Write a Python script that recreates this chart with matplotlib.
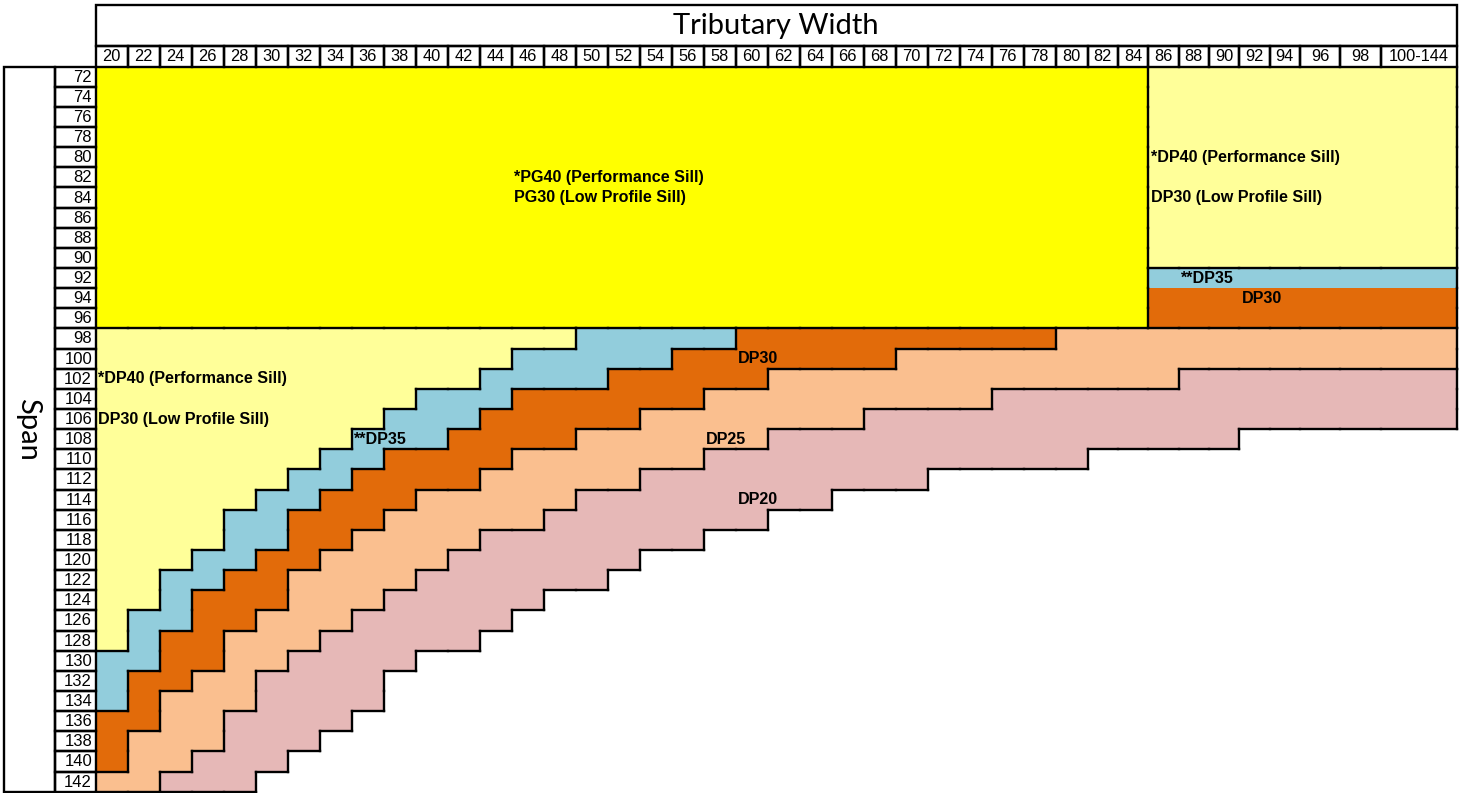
import numpy as np
import matplotlib
matplotlib.use("Agg")
import matplotlib.pyplot as plt
from matplotlib.colors import ListedColormap
from matplotlib.collections import LineCollection
from matplotlib.patches import Rectangle

# tributary width (columns) and span (rows)
widths = [str(w) for w in range(20, 100, 2)] + ["100-144"]
spans = list(range(72, 144, 2))

# upper block (span < 98): PG sills up to width 84, DP sills from 86 on
pg_last_width = "84"
dp35_span_upper = 92          # **DP35 row in the wide-tributary block
dp30_from_upper = 94          # DP30 rows below it

# lower block (span >= 98): first span of each band per width column, 144 = band not reached
blue_from = [130, 126, 122, 120, 116, 114, 112, 110, 108, 106, 104, 104, 102, 100, 100,
             98, 98, 98, 98, 98] + [98] * 21
orange_from = [136, 132, 128, 124, 122, 120, 116, 114, 112, 110, 110, 108, 106, 104, 104,
               104, 102, 102, 100, 100] + [98] * 21
peach_from = [142, 138, 134, 132, 128, 126, 122, 120, 118, 116, 114, 114, 112, 110, 110,
              108, 108, 106, 106, 104, 104, 102, 102, 102, 102, 100, 100, 100, 100, 100] + [98] * 11
pink_from = [144, 144, 142, 140, 136, 132, 130, 128, 126, 124, 122, 120, 118, 118, 116,
             114, 114, 112, 112, 110, 110, 108, 108, 108, 106, 106, 106, 106, 104, 104,
             104, 104, 104, 104] + [102] * 7
white_from = [144, 144, 144, 144, 144, 142, 140, 138, 136, 132, 130, 130, 128, 126, 124,
              124, 122, 120, 120, 118, 118, 116, 116, 114, 114, 114, 112, 112, 112, 112,
              112, 110, 110, 110, 110, 110] + [108] * 5

# band colours: none, PG, DP40/DP30 low profile, DP35, DP30, DP25, DP20
colors = ["#FFFFFF", "#FFFF00", "#FFFF99", "#92CDDC", "#E26B0A", "#FABF8F", "#E6B8B7"]

# labels: (text, width column, span row)
labels = [
    ("*PG40 (Performance Sill)", "46", 82),
    ("PG30 (Low Profile Sill)", "46", 84),
    ("*DP40 (Performance Sill)", "86", 80),
    ("DP30 (Low Profile Sill)", "86", 84),
    ("**DP35", "88", 92),
    ("DP30", "92", 94),
    ("*DP40 (Performance Sill)", "20", 102),
    ("DP30 (Low Profile Sill)", "20", 106),
    ("**DP35", "36", 108),
    ("DP30", "60", 100),
    ("DP25", "58", 108),
    ("DP20", "60", 114),
]

# page layout in pixels
W, H, DPI = 1463, 793, 100
X0, Y0, RH = 95.5, 66.6, 20.14
col_px = [32.0] * 31 + [30.36] * 7 + [40.0, 41.0, 75.7]
TITLE_TOP, HEAD_MID = 5.0, 45.7
SPAN_L, LABEL_L = 4.0, 55.0
LW = 1.7
NUM_FONT = "Liberation Sans"
TITLE_FONT = "Lato"

xe = X0 + np.concatenate([[0], np.cumsum(col_px)])
ye = Y0 + RH * np.arange(len(spans) + 1)
S = np.array(spans)
nr, nc = len(spans), len(widths)
pg_n = widths.index(pg_last_width) + 1

cls = np.zeros((nr, nc), int)
for k in range(nc):
    c = cls[:, k]
    up = S < 98
    if k < pg_n:
        c[up] = 1
    else:
        c[up] = 2
        c[S == dp35_span_upper] = 3
        c[up & (S >= dp30_from_upper)] = 4
    lo = S >= 98
    c[lo] = 2
    c[lo & (S >= blue_from[k])] = 3
    c[lo & (S >= orange_from[k])] = 4
    c[lo & (S >= peach_from[k])] = 5
    c[lo & (S >= pink_from[k])] = 6
    c[lo & (S >= white_from[k])] = 0

# outline groups: the DP35/DP30 pair in the upper block shares one outline
reg = cls.copy()
reg[(S < 98)[:, None] & (np.arange(nc) >= pg_n)[None, :] & (cls == 4)] = 3

fig = plt.figure(figsize=(W / DPI, H / DPI), dpi=DPI)
ax = fig.add_axes([0, 0, 1, 1])
ax.set_xlim(0, W)
ax.set_ylim(H, 0)
ax.axis("off")

ax.pcolormesh(xe, ye, cls, cmap=ListedColormap(colors), vmin=-0.5, vmax=6.5, shading="flat")

segs = []
for i in range(nr):
    for k in range(nc):
        r = reg[i, k]
        if i + 1 < nr and reg[i + 1, k] != r:
            segs.append([(xe[k], ye[i + 1]), (xe[k + 1], ye[i + 1])])
        if i + 1 == nr and r:
            segs.append([(xe[k], ye[nr]), (xe[k + 1], ye[nr])])
        if k + 1 < nc and reg[i, k + 1] != r:
            segs.append([(xe[k + 1], ye[i]), (xe[k + 1], ye[i + 1])])
        if k + 1 == nc and r:
            segs.append([(xe[nc], ye[i]), (xe[nc], ye[i + 1])])
ax.add_collection(LineCollection(segs, colors="black", linewidths=LW, capstyle="projecting"))

# header: title box and width cells
ax.add_patch(Rectangle((X0, TITLE_TOP), xe[-1] - X0, HEAD_MID - TITLE_TOP,
                       fill=False, ec="black", lw=LW))
ax.text((X0 + xe[-1]) / 2, (TITLE_TOP + HEAD_MID) / 2 + 1, "Tributary Width",
        ha="center", va="center", fontsize=21, family=TITLE_FONT)
for k, w in enumerate(widths):
    ax.add_patch(Rectangle((xe[k], HEAD_MID), xe[k + 1] - xe[k], Y0 - HEAD_MID,
                           fill=False, ec="black", lw=LW))
    ax.text((xe[k] + xe[k + 1]) / 2, (HEAD_MID + Y0) / 2 + 0.5, w,
            ha="center", va="center", fontsize=11.8, family=NUM_FONT)

# side: span box and span cells
ax.add_patch(Rectangle((SPAN_L, Y0), LABEL_L - SPAN_L, ye[-1] - Y0, fill=False, ec="black", lw=LW))
ax.text((SPAN_L + LABEL_L) / 2 - 1, (Y0 + ye[-1]) / 2, "Span", rotation=-90,
        ha="center", va="center", fontsize=21, family=TITLE_FONT)
for i, s in enumerate(spans):
    ax.add_patch(Rectangle((LABEL_L, ye[i]), X0 - LABEL_L, RH, fill=False, ec="black", lw=LW))
    ax.text(X0 - 3.5, (ye[i] + ye[i + 1]) / 2 + 0.5, str(s),
            ha="right", va="center", fontsize=12, family=NUM_FONT)

for text, w, s in labels:
    k, i = widths.index(w), spans.index(s)
    ax.text(xe[k] + 2.5, (ye[i] + ye[i + 1]) / 2, text, ha="left", va="center",
            fontsize=11.6, fontweight="bold", family=NUM_FONT)

fig.savefig("out.png", dpi=DPI)
